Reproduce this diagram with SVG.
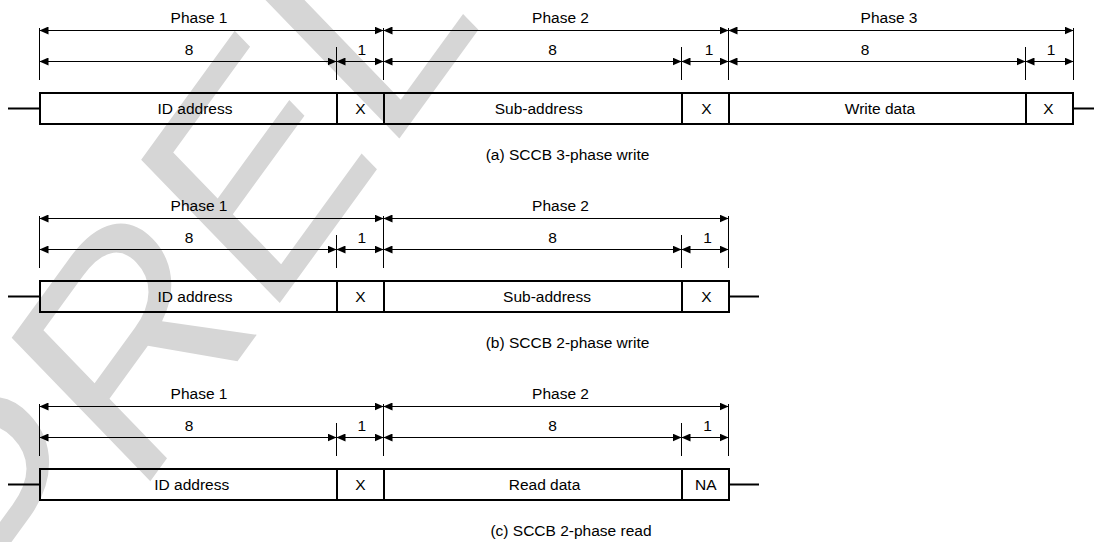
<svg xmlns="http://www.w3.org/2000/svg" width="1094" height="542" viewBox="0 0 1094 542">
<style>
text{font-family:"Liberation Sans",Arial,sans-serif;font-size:15.5px;fill:#000;text-anchor:middle}
.wm{font-size:100px;fill:#d6d6d6;text-anchor:start}
.dim{stroke:#000;stroke-width:1;fill:none;marker-start:url(#ah);marker-end:url(#ah)}
.tick{stroke:#000;stroke-width:1;fill:none}
.fld{fill:none;stroke:#000;stroke-width:2}
.lead{stroke:#000;stroke-width:2;fill:none}
</style>
<defs>
<marker id="ah" markerUnits="userSpaceOnUse" markerWidth="9" markerHeight="8" refX="9" refY="4" orient="auto-start-reverse"><path d="M0,0 L9,4 L0,8 z" fill="#000"/></marker>
</defs>
<rect width="1094" height="542" fill="#fff"/>
<text class="wm" transform="matrix(1.793 -2.467 2.015 2.085 16 666)">PRELIMINARY</text>

<g id="diagram-a">
<g id="a-connectors">
<line class="dim" x1="39.5" y1="30.5" x2="383.5" y2="30.5"/>
<line class="dim" x1="383.5" y1="30.5" x2="728.5" y2="30.5"/>
<line class="dim" x1="728.5" y1="30.5" x2="1073.5" y2="30.5"/>
<line class="dim" x1="39.5" y1="61.5" x2="336.5" y2="61.5"/>
<line class="dim" x1="336.5" y1="61.5" x2="383.5" y2="61.5"/>
<line class="dim" x1="383.5" y1="61.5" x2="681.5" y2="61.5"/>
<line class="dim" x1="681.5" y1="61.5" x2="728.5" y2="61.5"/>
<line class="dim" x1="728.5" y1="61.5" x2="1025.5" y2="61.5"/>
<line class="dim" x1="1025.5" y1="61.5" x2="1073.5" y2="61.5"/>
<path class="tick" d="M39.5,28V80 M383.5,28V80 M728.5,28V80 M1073.5,28V80 M336.5,47V80 M681.5,47V80 M1025.5,47V80"/>
<path class="lead" d="M8,108.5H40 M1073,108.5H1094"/>
</g>
<text x="199" y="22.5">Phase 1</text>
<text x="560.5" y="22.5">Phase 2</text>
<text x="889" y="22.5">Phase 3</text>
<text x="189" y="55">8</text>
<text x="552.5" y="55">8</text>
<text x="865" y="55">8</text>
<text x="361.7" y="55">1</text>
<text x="709" y="55">1</text>
<text x="1051" y="55">1</text>
<g id="a-id"><rect class="fld" x="40" y="93" width="297" height="31"/><text x="195" y="114">ID address</text></g>
<g id="a-x1"><rect class="fld" x="337" y="93" width="47" height="31"/><text x="360.5" y="114">X</text></g>
<g id="a-sub"><rect class="fld" x="384" y="93" width="298" height="31"/><text x="538.7" y="114">Sub-address</text></g>
<g id="a-x2"><rect class="fld" x="682" y="93" width="47" height="31"/><text x="706.5" y="114">X</text></g>
<g id="a-wd"><rect class="fld" x="729" y="93" width="297" height="31"/><text x="880" y="114">Write data</text></g>
<g id="a-x3"><rect class="fld" x="1026" y="93" width="47" height="31"/><text x="1048.5" y="114">X</text></g>
<text x="567.5" y="160">(a) SCCB 3-phase write</text>
</g>

<g id="diagram-b" transform="translate(0,188)">
<g id="b-connectors">
<line class="dim" x1="39.5" y1="30.5" x2="383.5" y2="30.5"/>
<line class="dim" x1="383.5" y1="30.5" x2="728.5" y2="30.5"/>
<line class="dim" x1="39.5" y1="61.5" x2="336.5" y2="61.5"/>
<line class="dim" x1="336.5" y1="61.5" x2="383.5" y2="61.5"/>
<line class="dim" x1="383.5" y1="61.5" x2="681.5" y2="61.5"/>
<line class="dim" x1="681.5" y1="61.5" x2="728.5" y2="61.5"/>
<path class="tick" d="M39.5,28V80 M383.5,28V80 M728.5,28V80 M336.5,47V80 M681.5,47V80"/>
<path class="lead" d="M8,108.5H40 M729,108.5H759"/>
</g>
<text x="199" y="22.5">Phase 1</text>
<text x="560.5" y="22.5">Phase 2</text>
<text x="189" y="55">8</text>
<text x="552.5" y="55">8</text>
<text x="361.7" y="55">1</text>
<text x="707.5" y="55">1</text>
<g id="b-id"><rect class="fld" x="40" y="93" width="297" height="31"/><text x="195" y="114">ID address</text></g>
<g id="b-x1"><rect class="fld" x="337" y="93" width="47" height="31"/><text x="360.5" y="114">X</text></g>
<g id="b-sub"><rect class="fld" x="384" y="93" width="298" height="31"/><text x="547" y="114">Sub-address</text></g>
<g id="b-x2"><rect class="fld" x="682" y="93" width="47" height="31"/><text x="706.5" y="114">X</text></g>
<text x="567.5" y="160">(b) SCCB 2-phase write</text>
</g>

<g id="diagram-c" transform="translate(0,376)">
<g id="c-connectors">
<line class="dim" x1="39.5" y1="30.5" x2="383.5" y2="30.5"/>
<line class="dim" x1="383.5" y1="30.5" x2="728.5" y2="30.5"/>
<line class="dim" x1="39.5" y1="61.5" x2="336.5" y2="61.5"/>
<line class="dim" x1="336.5" y1="61.5" x2="383.5" y2="61.5"/>
<line class="dim" x1="383.5" y1="61.5" x2="681.5" y2="61.5"/>
<line class="dim" x1="681.5" y1="61.5" x2="728.5" y2="61.5"/>
<path class="tick" d="M39.5,28V80 M383.5,28V80 M728.5,28V80 M336.5,47V80 M681.5,47V80"/>
<path class="lead" d="M8,108.5H40 M729,108.5H759"/>
</g>
<text x="199" y="22.5">Phase 1</text>
<text x="560.5" y="22.5">Phase 2</text>
<text x="189" y="55">8</text>
<text x="552.5" y="55">8</text>
<text x="361.7" y="55">1</text>
<text x="707.5" y="55">1</text>
<g id="c-id"><rect class="fld" x="40" y="93" width="297" height="31"/><text x="191.7" y="114">ID address</text></g>
<g id="c-x1"><rect class="fld" x="337" y="93" width="47" height="31"/><text x="360.5" y="114">X</text></g>
<g id="c-rd"><rect class="fld" x="384" y="93" width="298" height="31"/><text x="544.5" y="114">Read data</text></g>
<g id="c-na"><rect class="fld" x="682" y="93" width="47" height="31"/><text x="705.8" y="114">NA</text></g>
<text x="571" y="160">(c) SCCB 2-phase read</text>
</g>
</svg>
